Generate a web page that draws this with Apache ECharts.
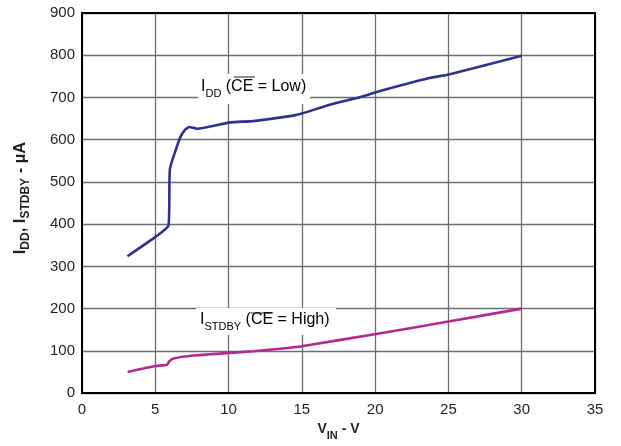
<!DOCTYPE html>
<html>
<head>
<meta charset="utf-8">
<script src="https://cdn.jsdelivr.net/npm/echarts@6/dist/echarts.min.js"></script>
<style>
html,body{margin:0;padding:0;background:#fff;}
#chart{width:621px;height:446px;}
</style>
</head>
<body>
<div id="chart"></div>
<script>
// Data
const iddVin = [3.1, 5.06, 5.9, 6.0, 6.7, 7.04, 7.33, 7.84, 10.1, 11.68, 14.4, 15.0, 16.9, 19.0, 20.1, 23.7, 25.1, 30.0];
const iddVal = [324, 371, 397, 531, 605, 624, 630, 626, 641, 644, 657, 662, 683, 701, 713, 746, 755, 799];

const stbVin = [3.11, 5.0, 5.8, 5.97, 6.25, 7.6, 10.0, 11.7, 13.5, 15.0, 20.06, 25.1, 30.0];
const stbVal = [50, 64, 67, 76, 82, 89, 95, 99, 105, 111, 140, 170, 200];

const xTicks = [0, 5, 10, 15, 20, 25, 30, 35];
const yTicks = [0, 100, 200, 300, 400, 500, 600, 700, 800, 900];

const FONT = '"Liberation Sans", Arial, sans-serif';
const chart = echarts.init(document.getElementById('chart'));

const pair = (xs, ys) => xs.map((x, i) => [x, ys[i]]);

const richBase = {
  m: {fontSize: 16, fontFamily: FONT, color: '#231f20', lineHeight: 18, verticalAlign: 'top'},
  s: {fontSize: 11, fontFamily: FONT, color: '#231f20', lineHeight: 11, padding: [9, 0, 0, 0], verticalAlign: 'top'}
};

chart.setOption({
  animation: false,
  backgroundColor: '#fff',
  grid: {left: 82, right: 26, top: 13, bottom: 50, show: true, borderColor: '#000', borderWidth: 2, z: 5},
  xAxis: {
    type: 'value', min: 0, max: 35, interval: 5,
    axisLine: {show: false},
    axisTick: {show: false},
    axisLabel: {fontSize: 15, fontFamily: FONT, color: '#231f20', margin: 9,
      formatter: v => xTicks.includes(v) ? String(v) : ''},
    splitLine: {show: true, lineStyle: {color: '#6d6e71', width: 1.3}},
    name: '{m|V}{s|IN}{m| - V}',
    nameLocation: 'middle', nameGap: 25,
    nameTextStyle: {
      rich: {
        m: {fontSize: 14, fontWeight: 'bold', fontFamily: FONT, color: '#231f20', lineHeight: 17, verticalAlign: 'top'},
        s: {fontSize: 11, fontWeight: 'bold', fontFamily: FONT, color: '#231f20', lineHeight: 11, padding: [8, 0, 0, 0], verticalAlign: 'top'}
      }
    }
  },
  yAxis: {
    type: 'value', min: 0, max: 900, interval: 100,
    axisLine: {show: false},
    axisTick: {show: false},
    axisLabel: {fontSize: 15, fontFamily: FONT, color: '#231f20', margin: 7,
      formatter: v => yTicks.includes(v) ? String(v) : ''},
    splitLine: {show: true, lineStyle: {color: '#6d6e71', width: 1.3}},
    name: '{m|I}{s|DD}{m|, I}{s|STDBY}{m| - µA}',
    nameLocation: 'middle', nameGap: 52,
    nameTextStyle: {
      padding: [0, 0, 0, 10],
      rich: {
        m: {fontSize: 16.5, fontWeight: 'bold', fontFamily: FONT, color: '#231f20', lineHeight: 18, verticalAlign: 'top'},
        s: {fontSize: 12, fontWeight: 'bold', fontFamily: FONT, color: '#231f20', lineHeight: 12, padding: [8, 0, 0, 0], verticalAlign: 'top'}
      }
    }
  },
  series: [
    {type: 'line', data: pair(iddVin, iddVal), showSymbol: false, smooth: 0.15,
     lineStyle: {color: '#2e3192', width: 2.6}, z: 3},
    {type: 'line', data: pair(stbVin, stbVal), showSymbol: false, smooth: 0.15,
     lineStyle: {color: '#b52a8f', width: 2.6}, z: 3}
  ],
  graphic: [
    {type: 'rect', shape: {x: 198, y: 74, width: 112, height: 30}, style: {fill: '#fff'}, z: 10},
    {type: 'text', x: 201, y: 79, z: 11,
     style: {text: '{m|I}{s|DD}{m| (CE = Low)}', rich: richBase}},
    {type: 'line', shape: {x1: 234, y1: 77, x2: 255, y2: 77}, style: {stroke: '#231f20', lineWidth: 1}, z: 12},
    {type: 'rect', shape: {x: 196, y: 308, width: 140, height: 27}, style: {fill: '#fff'}, z: 10},
    {type: 'text', x: 200, y: 312, z: 11,
     style: {text: '{m|I}{s|STDBY}{m| (CE = High)}', rich: richBase}},
    {type: 'line', shape: {x1: 251, y1: 313, x2: 273, y2: 313}, style: {stroke: '#231f20', lineWidth: 1}, z: 12}
  ]
});
</script>
</body>
</html>
